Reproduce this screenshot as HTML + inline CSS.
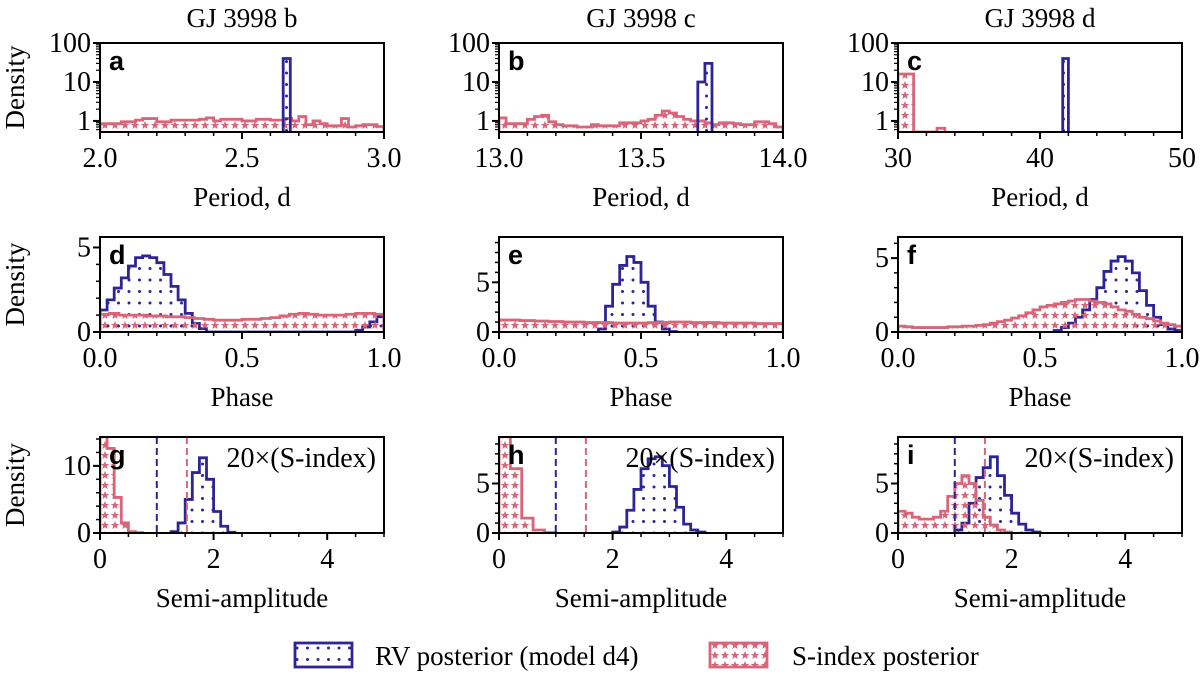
<!DOCTYPE html>
<html><head><meta charset="utf-8"><style>
html,body{margin:0;padding:0;background:#fff;}
svg{display:block;}
text{font-family:"Liberation Serif",serif;fill:#000;}
.let{font-family:"Liberation Sans",sans-serif;font-weight:bold;}
</style></head><body>
<svg id="fig" width="1200" height="690" viewBox="0 0 1200 690">
<defs>
<pattern id="dots" patternUnits="userSpaceOnUse" width="10.5" height="11.5">
<circle cx="3" cy="4" r="1.5" fill="#2d2596"/></pattern>
<pattern id="stars" patternUnits="userSpaceOnUse" width="10" height="10">
<polygon points="5,0.8 6.1,3.9 9.3,4 6.8,5.9 7.7,9 5,7.2 2.3,9 3.2,5.9 0.7,4 3.9,3.9" fill="#d8657a"/></pattern>
</defs>
</svg>
<script>
// ---- data ----
const panelLetters = ["a","b","c","d","e","f","g","h","i"];
const columnTitles = ["GJ 3998 b","GJ 3998 c","GJ 3998 d"];
const rowXLabels = ["Period, d","Phase","Semi-amplitude"];
// panel a
const aPink = [0.85,0.85,0.85,0.95,0.95,1.05,1.15,1.15,0.95,0.95,1.05,1.05,1.05,1.05,1.1,1.2,1.0,1.1,1.1,1.1,1.0,1.0,1.1,1.1,1.05,1.05,1.15,1.0,1.3,0.8,1.0,0.85,0.75,0.75,1.15,0.7,0.75,0.8,0.8,0.72];
const aBlue = [40];
// panel b
const bPink = [1.2,0.85,0.85,0.85,1.1,1.3,1.4,0.95,0.8,0.75,0.75,0.7,0.7,0.8,0.75,0.75,0.75,0.9,0.9,0.9,1.0,1.1,1.4,1.8,1.6,1.3,1.1,1.0,1.0,0.9,0.8,0.9,0.9,0.85,0.8,0.8,0.95,0.95,0.85,0.7];
const bBlue = [10,30];
// panel c
const cPink = [16,16,0,0,0,0.65];
const cBlue = [40];
// panel d
const dBlue = [1.3,1.9,2.6,3.2,3.9,4.4,4.5,4.4,4.1,3.4,2.7,1.9,1.1,0.5,0.2,0,0,0,0,0,0,0,0,0,0,0,0,0,0,0,0,0,0,0,0,0,0.1,0.3,0.6,0.9];
const dPink = [1.05,1.1,1.0,1.0,1.0,0.95,0.95,0.9,0.9,0.85,0.8,0.75,0.7,0.7,0.7,0.75,0.75,0.8,0.85,0.95,1.05,1.1,1.05,1.0,1.0,1.0,1.05,1.1,1.1,1.05];
// panel e
const eBlue = [0.3,2.6,4.8,6.7,7.6,7.0,5.0,2.6,1.0,0.3,0.05];
const ePink = [1.2,1.2,1.2,1.15,1.15,1.1,1.1,1.05,1.05,1.0,1.0,1.0,0.95,0.95,0.95,0.95,0.9,0.9,0.9,0.9,0.9,0.95,0.95,0.95,1.0,1.0,1.0,0.95,0.95,0.95,0.95,0.9,0.9,0.9,0.9,0.9,0.85,0.85,0.85,0.85];
// panel f
const fBlue = [0.1,0.3,0.6,1.0,1.5,2.2,3.0,4.1,4.8,5.1,4.8,4.0,2.8,1.8,1.0,0.5,0.2,0.1];
const fPink = [0.4,0.35,0.3,0.3,0.3,0.3,0.3,0.35,0.35,0.4,0.4,0.45,0.5,0.6,0.7,0.8,0.95,1.1,1.3,1.5,1.7,1.8,1.9,2.0,2.1,2.2,2.2,2.1,2.0,1.9,1.7,1.5,1.4,1.2,1.0,0.9,0.75,0.6,0.5,0.4];
// panel g
const gBlue = [0.2,1.5,5.0,9.0,11.2,8.0,3.2,1.0,0.1];
const gPink = [15,12.6,5.3,1.5,0.2,0.05];
// panel h
const hBlue = [0.1,0.6,2.3,4.4,6.5,7.5,7.7,6.8,4.7,2.6,0.9,0.3,0.1];
const hPink = [11,6.5,1.5,0.3,0.05];
// panel i
const iBlue = [0.3,1.0,3.0,5.6,6.6,7.7,5.8,3.8,2.0,0.9,0.3,0.1];
const iPink = [2.2,2.0,1.6,1.4,1.4,1.6,2.2,3.7,5.0,5.8,5.0,3.3,1.6,0.8,0.3,0.1];
// dashed reference lines (semi-amplitude)
const rvThreshold = 1.0;
const sThreshold = 1.53;
// ---- layout ----
const colX = [100,499,898], W = 284;
const rowY = [[43,132],[237,332],[437,533]];
const BLUE = "#2d2596", PINK = "#d8657a";
const panels = [
 {xr:[2,3],xt:[2,2.5,3],xtl:["2.0","2.5","3.0"],xm:0.1,log:true,yr:[0.52,100],yt:[1,10,100],ytl:["1","10","100"],
  s:[{d:aPink,x0:2,w:0.025,c:"pink"},{d:aBlue,x0:2.645,w:0.025,c:"blue"}]},
 {xr:[13,14],xt:[13,13.5,14],xtl:["13.0","13.5","14.0"],xm:0.1,log:true,yr:[0.52,100],yt:[1,10,100],ytl:["1","10","100"],
  s:[{d:bPink,x0:13,w:0.025,c:"pink"},{d:bBlue,x0:13.7,w:0.025,c:"blue"}]},
 {xr:[30,50],xt:[30,40,50],xtl:["30","40","50"],xm:2,log:true,yr:[0.52,100],yt:[1,10,100],ytl:["1","10","100"],
  s:[{d:cPink,x0:30,w:0.55,c:"pink"},{d:cBlue,x0:41.6,w:0.4,c:"blue"}]},
 {xr:[0,1],xt:[0,0.5,1],xtl:["0.0","0.5","1.0"],xm:0.1,yr:[0,5.62],yt:[0,5],ytl:["0","5"],ym:1,
  s:[{d:dBlue,x0:0,w:0.025,c:"blue"},{d:dPink,x0:0,w:1/30,c:"pink"}]},
 {xr:[0,1],xt:[0,0.5,1],xtl:["0.0","0.5","1.0"],xm:0.1,yr:[0,9.56],yt:[0,5],ytl:["0","5"],ym:1,
  s:[{d:eBlue,x0:0.35,w:0.025,c:"blue"},{d:ePink,x0:0,w:0.025,c:"pink"}]},
 {xr:[0,1],xt:[0,0.5,1],xtl:["0.0","0.5","1.0"],xm:0.1,yr:[0,6.43],yt:[0,5],ytl:["0","5"],ym:1,
  s:[{d:fBlue,x0:0.55,w:0.025,c:"blue"},{d:fPink,x0:0,w:0.025,c:"pink"}]},
 {xr:[0,5],xt:[0,2,4],xtl:["0","2","4"],xm:0.5,yr:[0,14.3],yt:[0,10],ytl:["0","10"],ym:2,amp:true,
  s:[{d:gBlue,x0:1.25,w:0.125,c:"blue"},{d:gPink,x0:0,w:0.125,c:"pink"}]},
 {xr:[0,5],xt:[0,2,4],xtl:["0","2","4"],xm:0.5,yr:[0,9.7],yt:[0,5],ytl:["0","5"],ym:1,amp:true,
  s:[{d:hBlue,x0:2.0,w:0.125,c:"blue"},{d:hPink,x0:0,w:0.2,c:"pink"}]},
 {xr:[0,5],xt:[0,2,4],xtl:["0","2","4"],xm:0.5,yr:[0,9.7],yt:[0,5],ytl:["0","5"],ym:1,amp:true,
  s:[{d:iBlue,x0:1.0,w:0.125,c:"blue"},{d:iPink,x0:0,w:0.125,c:"pink"}]}
];
const svg = document.getElementById("fig");
const NS = "http://www.w3.org/2000/svg";
function mk(tag, attrs, parent){const e=document.createElementNS(NS,tag);for(const k in attrs)e.setAttribute(k,attrs[k]);(parent||svg).appendChild(e);return e;}

columnTitles.forEach((t,i)=>{
  const e=mk("text",{x:colX[i]+W/2,y:27,"text-anchor":"middle","font-size":"27"});e.textContent=t;
  
  
});

panels.forEach((p,k)=>{
  const r=Math.floor(k/3), c=k%3;
  const L=colX[c], R=L+W, T=rowY[r][0], B=rowY[r][1];
  const g=mk("g",{});
  
  
  const sx=v=>L+(v-p.xr[0])/(p.xr[1]-p.xr[0])*W;
  const sy=p.log
    ? v=>{const vv=Math.max(v,p.yr[0]);return B-(Math.log10(vv)-Math.log10(p.yr[0]))/(Math.log10(p.yr[1])-Math.log10(p.yr[0]))*(B-T);}
    : v=>B-(v-p.yr[0])/(p.yr[1]-p.yr[0])*(B-T);
  const cp=mk("clipPath",{id:"cp"+k},g);mk("rect",{x:L,y:T,width:W,height:B-T},cp);
  const plot=mk("g",{"clip-path":"url(#cp"+k+")"},g);
  p.s.forEach(s=>{
    let d="M"+sx(s.x0)+","+B;
    s.d.forEach((v,i)=>{const y=sy(v);d+=" L"+sx(s.x0+i*s.w)+","+y+" L"+sx(s.x0+(i+1)*s.w)+","+y;});
    d+=" L"+sx(s.x0+s.d.length*s.w)+","+B;
    const col=s.c==="blue"?BLUE:PINK;
    const path=mk("path",{d:d,fill:s.c==="blue"?"url(#dots)":"url(#stars)",stroke:col,"stroke-width":"2.8","stroke-linejoin":"miter"},plot);
    
    
  });
  if(p.amp){
    const l1=mk("line",{x1:sx(rvThreshold),x2:sx(rvThreshold),y1:T,y2:B,stroke:BLUE,"stroke-width":"2","stroke-dasharray":"7,4"},plot);
    
    
    const l2=mk("line",{x1:sx(sThreshold),x2:sx(sThreshold),y1:T,y2:B,stroke:PINK,"stroke-width":"2","stroke-dasharray":"7,4"},plot);
    
    
    const tt=mk("text",{x:R-8,y:T+30,"text-anchor":"end","font-size":"28"},g);tt.textContent="20×(S-index)";
    
    
  }
  const fr=mk("rect",{x:L,y:T,width:W,height:B-T,fill:"none",stroke:"#000","stroke-width":"2"},g);
  
  
  for(let v=p.xr[0];v<=p.xr[1]+1e-9;v+=p.xm){const x=sx(v);mk("line",{x1:x,x2:x,y1:B,y2:B+4,stroke:"#000","stroke-width":"1.5"},g);}
  p.xt.forEach((v,i)=>{const x=sx(v);mk("line",{x1:x,x2:x,y1:B,y2:B+7,stroke:"#000","stroke-width":"2"},g);
    const t=mk("text",{x:x,y:B+35,"text-anchor":"middle","font-size":"28"},g);t.textContent=p.xtl[i];
    
    });
  if(p.log){
    for(let dec=0.1;dec<100;dec*=10){for(let m=2;m<10;m++){const v=dec*m;if(v<p.yr[0]||v>p.yr[1])continue;const y=sy(v);mk("line",{x1:L-4,x2:L,y1:y,y2:y,stroke:"#000","stroke-width":"1.2"},g);}}
  } else {
    for(let v=0;v<=p.yr[1];v+=p.ym){const y=sy(v);mk("line",{x1:L-4,x2:L,y1:y,y2:y,stroke:"#000","stroke-width":"1.5"},g);}
  }
  p.yt.forEach((v,i)=>{const y=sy(v);mk("line",{x1:L-7,x2:L,y1:y,y2:y,stroke:"#000","stroke-width":"2"},g);
    const t=mk("text",{x:L-9,y:y+9,"text-anchor":"end","font-size":"28"},g);t.textContent=p.ytl[i];
    
    });
  const lt=mk("text",{x:L+9,y:T+27,"font-size":"27",class:"let"},g);lt.textContent=panelLetters[k];
  
  
  if(c===0){
    const yl=mk("text",{x:0,y:0,"text-anchor":"middle","font-size":"27",transform:"translate(24,"+((T+B)/2)+") rotate(-90)"});yl.textContent="Density";
    
    
  }
  const xl=mk("text",{x:(L+R)/2,y:B+74,"text-anchor":"middle","font-size":"27"});xl.textContent=rowXLabels[r];
  
  
});

const lg=mk("g",{});


const b1=mk("rect",{x:295,y:643,width:57,height:24,fill:"url(#dots)",stroke:BLUE,"stroke-width":"2.8"},lg);


const t1=mk("text",{x:375,y:665,"font-size":"27"},lg);t1.textContent="RV posterior (model d4)";


const b2=mk("rect",{x:710,y:643,width:57,height:24,fill:"url(#stars)",stroke:PINK,"stroke-width":"2.8"},lg);


const t2=mk("text",{x:792,y:665,"font-size":"27"},lg);t2.textContent="S-index posterior";


</script>
</body></html>
